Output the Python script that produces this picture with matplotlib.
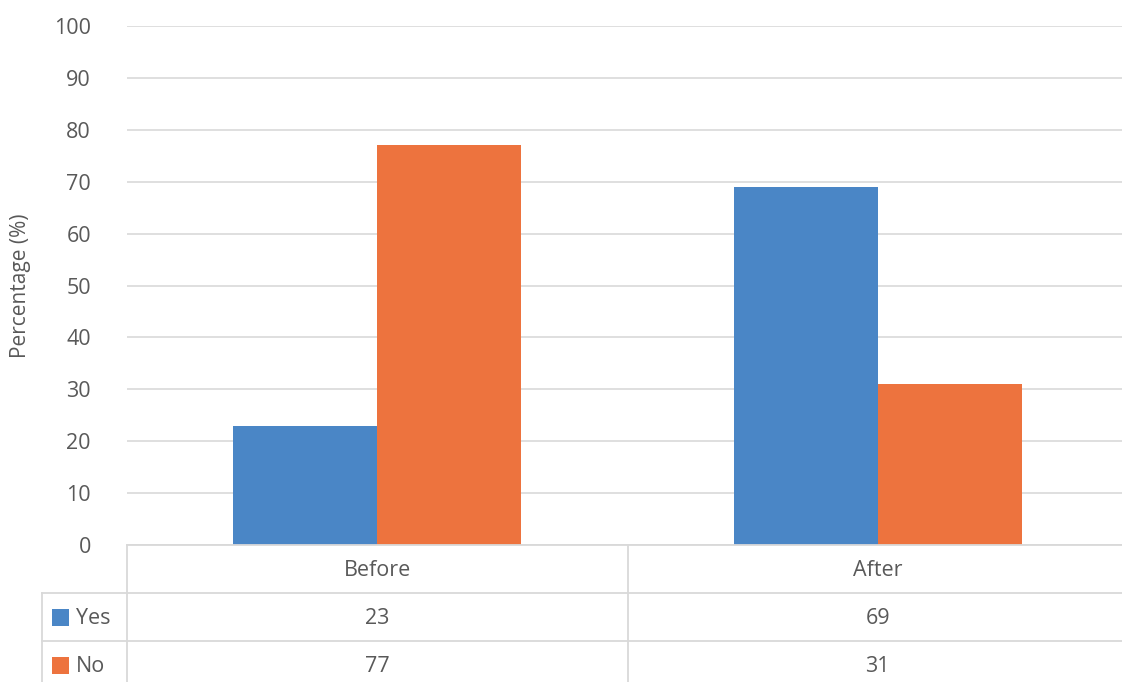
import numpy as np
import matplotlib.pyplot as plt
from matplotlib.lines import Line2D
from matplotlib.patches import Rectangle
import matplotlib.transforms as mtransforms

plt.switch_backend('agg')
plt.rcParams['font.family'] = ['Open Sans', 'DejaVu Sans']

# ---------- data ----------
categories = ['Before', 'After']
series_names = ['Yes', 'No']
yes_vals = [23, 69]
no_vals = [77, 31]
y_ticks = [0, 10, 20, 30, 40, 50, 60, 70, 80, 90, 100]

colors = ['#4a86c6', '#ed733e']
grid_col = '#d9d9d9'
text_col = '#595959'

W, H = 1122, 682
fig = plt.figure(figsize=(W / 100, H / 100), dpi=100)

def fx(px):
    return px / W

def fy(py):
    return 1 - py / H

# plot area in pixels
left, right, top, bottom = 127, 1128, 26, 545
ax = fig.add_axes([fx(left), fy(bottom), fx(right) - fx(left), fy(top) - fy(bottom)])

x = np.arange(len(categories))
bw = 0.288
ax.bar(x - bw / 2, yes_vals, bw, color=colors[0], zorder=3)
ax.bar(x + bw / 2, no_vals, bw, color=colors[1], zorder=3)

ax.set_xlim(-0.5, len(categories) - 0.5)
ax.set_ylim(0, 100)
ax.set_yticks(y_ticks)
ax.set_yticklabels([str(t) for t in y_ticks], fontsize=15.5, color=text_col)
ax.tick_params(axis='y', length=0, pad=26)
ax.set_xticks([])
ax.grid(axis='y', color=grid_col, linewidth=1.2, zorder=0)
for s in ax.spines.values():
    s.set_visible(False)
ax.set_ylabel('Percentage (%)', fontsize=15, color=text_col)
ax.yaxis.set_label_coords(-0.096, 0.5)

# ---------- data table below the axis ----------
# x in data coords, y in figure coords
trans = mtransforms.blended_transform_factory(ax.transData, fig.transFigure)
row_lines = [545, 593, 641]
row_h = 48
lw = 1.3

# axis / header top line
fig.add_artist(Line2D([fx(left), fx(right)], [fy(545), fy(545)], color=grid_col, lw=lw))
for py in row_lines[1:]:
    fig.add_artist(Line2D([fx(42), fx(right)], [fy(py), fy(py)], color=grid_col, lw=lw))

# vertical borders
fig.add_artist(Line2D([fx(left), fx(left)], [fy(545), 0], color=grid_col, lw=lw))
fig.add_artist(Line2D([fx(42), fx(42)], [fy(593), 0], color=grid_col, lw=lw))
for b in np.arange(0.5, len(categories) - 0.5, 1.0):
    fig.add_artist(Line2D([b, b], [fy(545), 0], color=grid_col, lw=lw, transform=trans))

# header row: categories
for xi, cat in zip(x, categories):
    fig.text(xi, fy(545 + row_h / 2 + 2), cat, transform=trans, ha='center', va='center',
             fontsize=15.5, color=text_col)

# series rows
table_vals = [yes_vals, no_vals]
for r, (name, vals, c) in enumerate(zip(series_names, table_vals, colors)):
    cy = 593 + row_h * r + row_h / 2
    fig.add_artist(Rectangle((fx(52), fy(cy + 8.5)), fx(17), fy(0) - fy(17),
                             facecolor=c, edgecolor='none', transform=fig.transFigure))
    fig.text(fx(76), fy(cy + 1), name, ha='left', va='center', fontsize=15.5, color=text_col)
    for xi, v in zip(x, vals):
        fig.text(xi, fy(cy + 1), str(v), transform=trans, ha='center', va='center',
                 fontsize=15.5, color=text_col)

plt.savefig('out.png', dpi=100)
